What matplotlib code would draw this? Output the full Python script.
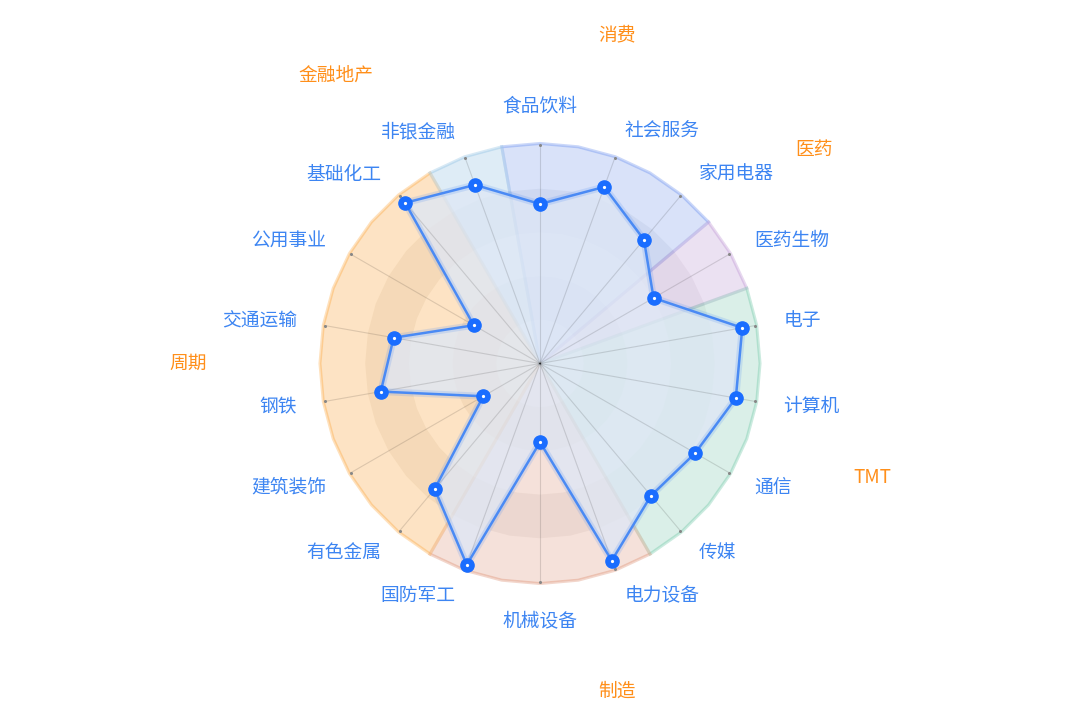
import numpy as np
import matplotlib.pyplot as plt
from matplotlib.path import Path
from matplotlib.patches import PathPatch

plt.rcParams['font.family'] = ['Noto Sans CJK SC', 'DejaVu Sans']

# industries, clockwise from the top
industries = ['食品饮料', '社会服务', '家用电器', '医药生物', '电子', '计算机', '通信', '传媒',
              '电力设备', '机械设备', '国防军工', '有色金属', '建筑装饰', '钢铁', '交通运输',
              '公用事业', '基础化工', '非银金融']
values = [73, 86, 74, 60, 94, 91, 82, 79, 96, 36, 98, 75, 30, 74, 68, 35, 96, 87]

# sector groups (consecutive industries)
groups = ['消费', '医药', 'TMT', '制造', '周期', '金融地产']
group_size = [3, 1, 4, 3, 6, 1]
group_colors = ['#7b9cf0', '#c4a0d8', '#7fcdb0', '#e09a80', '#fdb45c', '#9cc8e6']
group_alpha = [0.35, 0.38, 0.35, 0.35, 0.45, 0.4]
# slot (out of 36, 10 deg each, clockwise from top) where the group name sits
group_label_slot = [1, 5, 11, 17, 27, 33]

# Some definitions
Labelfont = 13.5
LabelColor = '#3d85f2'
GroupColor = '#ff8f1a'
LineColor = '#4a8af4'
DotColor = '#1a6dff'
R_bg = 100.7

n = len(industries)
step = 360 / n
theta = np.deg2rad(np.arange(n) * step)

fig = plt.figure(figsize=(10.8, 7.28), dpi=100)
ax = fig.add_axes([321.5 / 1080, 146 / 728, 437 / 1080, 437 / 728], projection='polar')
ax.set_theta_offset(np.pi / 2)
ax.set_theta_direction(-1)
ax.set_ylim(0, 100)
ax.set_axis_off()

# group backgrounds
start = 0
for g in range(len(groups)):
    a0 = (start - 0.5) * step
    a1 = (start + group_size[g] - 0.5) * step
    angs = np.deg2rad(np.arange(a0, a1 + 0.1, 10))
    th = np.concatenate([[0], angs, [0]])
    rr = np.concatenate([[0], np.full(len(angs), R_bg), [0]])
    ax.fill(th, rr, color=group_colors[g], alpha=group_alpha[g], lw=0, clip_on=False, zorder=1)
    ax.plot(th, rr, color=group_colors[g], alpha=0.4, lw=2.2, clip_on=False, zorder=1.5,
            solid_joinstyle='miter')
    start += group_size[g]

# split areas (36-gon rings)
ring_angs = np.deg2rad(np.arange(0, 361, 10))
ring_r = [0, 20, 40, 60, 80, 100]
ring_cols = [(250/255, 250/255, 250/255, 0.22), (200/255, 200/255, 200/255, 0.16)]
for k in range(len(ring_r) - 1):
    outer = np.column_stack([ring_angs, np.full(len(ring_angs), ring_r[k + 1])])
    inner = np.column_stack([ring_angs[::-1], np.full(len(ring_angs), ring_r[k])])
    verts = np.vstack([outer, inner])
    codes = ([Path.MOVETO] + [Path.LINETO] * (len(outer) - 1)
             + [Path.MOVETO] + [Path.LINETO] * (len(inner) - 1))
    patch = PathPatch(Path(verts, codes), facecolor=ring_cols[k % 2], lw=0,
                      transform=ax.transData, clip_on=False, zorder=2)
    ax.add_patch(patch)

# data area
th_c = np.append(theta, theta[0])
v_c = np.append(values, values[0])
ax.fill(th_c, v_c, color='#dee7f5', alpha=0.78, lw=0, zorder=3)

# spokes
for t in theta:
    ax.plot([t, t], [0, 100], color='black', alpha=0.13, lw=0.8, zorder=4, clip_on=False)
ax.plot(theta, np.full(n, 100), ls='none', marker='o', ms=1.2, color='#888888', zorder=4,
        clip_on=False)

# data line
ax.plot(th_c, v_c, color=LineColor, lw=5, alpha=0.18, zorder=5, solid_joinstyle='round')
ax.plot(th_c, v_c, color=LineColor, lw=1.8, zorder=5.5, solid_joinstyle='round')
ax.plot(theta, values, ls='none', marker='o', ms=9.5, mfc=DotColor, mec=DotColor, zorder=6,
        clip_on=False)
ax.plot(theta, values, ls='none', marker='o', ms=1.3, mfc='white', mec='white', zorder=7,
        clip_on=False)


def place(t, r, text, color):
    s, c = np.sin(t), np.cos(t)
    ha = 'center' if abs(s) < 0.01 else ('left' if s > 0 else 'right')
    va = 'center'
    if abs(s) < 0.01:
        va = 'bottom' if c > 0 else 'top'
    ax.text(t, r, text, ha=ha, va=va, color=color, fontsize=Labelfont, clip_on=False)


for t, name in zip(theta, industries):
    place(t, 113, name, LabelColor)

for g, slot in enumerate(group_label_slot):
    place(np.deg2rad(slot * 10), 152.5, groups[g], GroupColor)

plt.savefig('out.png', dpi=100)
